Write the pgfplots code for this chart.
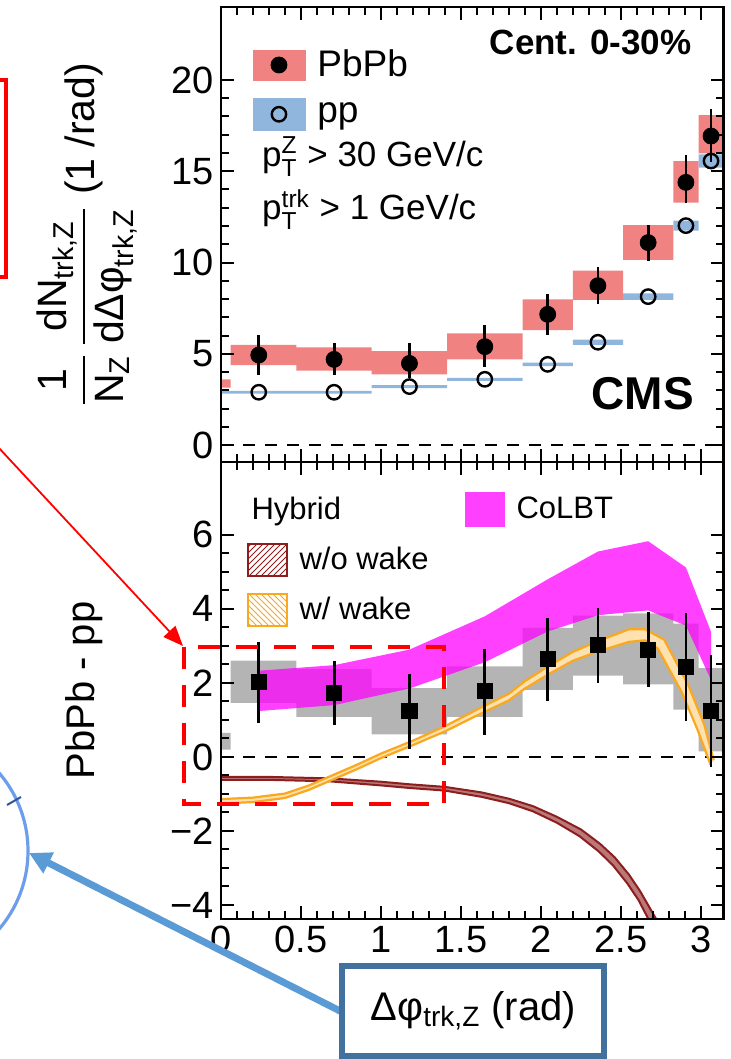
\documentclass[border=0pt]{standalone}
\usepackage{fontspec}
\setmainfont{Liberation Sans}
\usepackage{amsmath}
\usepackage{pgfplots}
\usepackage{pgfplotstable}
\pgfplotsset{compat=1.18}
\usetikzlibrary{arrows.meta,patterns}

\definecolor{pbred}{RGB}{240,130,130}
\definecolor{ppblue}{RGB}{145,182,222}
\definecolor{sysgray}{RGB}{180,180,180}
\definecolor{colbt}{RGB}{255,0,255}
\definecolor{wwake}{RGB}{250,168,30}
\definecolor{wowake}{RGB}{140,30,30}
\definecolor{circblue}{RGB}{109,158,235}
\definecolor{arrblue}{RGB}{91,155,213}
\definecolor{boxblue}{RGB}{65,113,156}
\definecolor{dashblue}{RGB}{47,85,151}

\newcommand\fs[1]{\fontsize{#1}{#1}\selectfont}

\pgfplotstableread{
x y ep em
0.236 4.93 1.10 1.09
0.707 4.69 0.88 0.85
1.178 4.47 1.10 0.82
1.649 5.39 1.19 1.10
2.042 7.16 1.10 1.13
2.356 8.73 1.04 1.00
2.670 11.09 0.96 0.99
2.906 14.39 1.50 1.15
3.063 16.93 1.46 1.40
}\pbpb

\pgfplotstableread{
x y
0.236 2.89
0.707 2.89
1.178 3.20
1.649 3.60
2.042 4.42
2.356 5.63
2.670 8.13
2.906 12.02
3.063 15.56
}\pp

\pgfplotstableread{
x y ep em
0.236 2.03 1.08 1.11
0.707 1.73 0.85 0.87
1.178 1.24 1.01 1.02
1.649 1.78 1.15 1.18
2.042 2.65 1.11 1.13
2.356 3.02 1.01 1.02
2.670 2.90 1.02 1.00
2.906 2.44 1.45 1.47
3.063 1.25 1.50 1.52
}\diff

\pgfplotsset{
  cmsax/.style={
    scale only axis, width=251.3pt, xmin=0, xmax=3.14159,
    axis on top, tick align=inside, tick pos=both,
    axis line style={line width=1.3pt},
    every tick/.style={black, line width=1pt},
    major tick length=6.5pt, minor tick length=4pt,
    xtick={0,0.5,1,1.5,2,2.5,3}, minor x tick num=4,
    tick label style={font=\fs{19}},
    /pgf/number format/assume math mode=true,
    label style={font=\fs{19}},
    legend cell align=left,
  }
}

\begin{document}
\begin{tikzpicture}
\path[use as bounding box] (0,0) rectangle (365.5pt,529.5pt);

% ---------------- top panel ----------------
\begin{axis}[cmsax,
  at={(110.5pt,298.5pt)}, anchor=south west, height=227.5pt,
  ymin=-0.93, ymax=24,
  xticklabels={},
  ytick={0,5,10,15,20}, minor y tick num=4,
  ylabel={$\dfrac{\text{1}}{\text{N}_\text{Z}}\,\dfrac{\text{dN}_\text{trk,Z}}{\text{dΔφ}_\text{trk,Z}}$ (1 /rad)},
  ylabel style={at={(axis description cs:-0.267,0.5)}, anchor=center, font=\fs{20.5}},
  legend style={at={(axis description cs:0.062,0.915)}, anchor=north west,
    draw=none, fill=none, inner sep=0pt, font=\fs{18.5}, row sep=7pt,
    /tikz/every odd column/.append style={column sep=4pt}},
]
\addlegendimage{legend image code/.code={\fill[pbred] (0pt,-7.5pt) rectangle (26pt,7.5pt); \fill[black] (13pt,0pt) circle (4pt);}}
\addlegendentry{PbPb}
\addlegendimage{legend image code/.code={\fill[ppblue] (0pt,-8pt) rectangle (26pt,8pt); \draw[black,line width=1.2pt] (13pt,0pt) circle (3.6pt);}}
\addlegendentry{pp}

\addplot[fill=pbred, draw=none, unbounded coords=jump, forget plot] coordinates {
(0,3.15) (0.06,3.15) (0.06,3.6) (0,3.6) (nan,nan)
(0.06,4.38) (0.471,4.38) (0.471,5.48) (0.06,5.48) (nan,nan)
(0.471,4.07) (0.942,4.07) (0.942,5.35) (0.471,5.35) (nan,nan)
(0.942,3.87) (1.414,3.87) (1.414,5.15) (0.942,5.15) (nan,nan)
(1.414,4.69) (1.885,4.69) (1.885,6.12) (1.414,6.12) (nan,nan)
(1.885,6.30) (2.199,6.30) (2.199,7.98) (1.885,7.98) (nan,nan)
(2.199,7.95) (2.513,7.95) (2.513,9.55) (2.199,9.55) (nan,nan)
(2.513,10.14) (2.827,10.14) (2.827,12.05) (2.513,12.05) (nan,nan)
(2.827,13.28) (2.985,13.28) (2.985,15.56) (2.827,15.56) (nan,nan)
(2.985,15.98) (3.1416,15.98) (3.1416,18.08) (2.985,18.08)
};
\addplot[fill=ppblue, draw=none, unbounded coords=jump, forget plot] coordinates {
(0,2.81) (0.471,2.81) (0.471,2.97) (0,2.97) (nan,nan)
(0.471,2.81) (0.942,2.81) (0.942,2.97) (0.471,2.97) (nan,nan)
(0.942,3.12) (1.414,3.12) (1.414,3.28) (0.942,3.28) (nan,nan)
(1.414,3.52) (1.885,3.52) (1.885,3.68) (1.414,3.68) (nan,nan)
(1.885,4.32) (2.199,4.32) (2.199,4.52) (1.885,4.52) (nan,nan)
(2.199,5.49) (2.513,5.49) (2.513,5.77) (2.199,5.77) (nan,nan)
(2.513,7.95) (2.827,7.95) (2.827,8.31) (2.513,8.31) (nan,nan)
(2.827,11.75) (2.985,11.75) (2.985,12.29) (2.827,12.29) (nan,nan)
(2.985,15.20) (3.1416,15.20) (3.1416,15.92) (2.985,15.92)
};
\addplot[black, line width=1pt, dash pattern=on 6pt off 5pt, forget plot] coordinates {(0,0) (3.1416,0)};
\addplot[only marks, mark=o, mark size=3.6pt, mark options={line width=1.2pt}, black, forget plot] table[x=x,y=y] {\pp};
\addplot[only marks, mark=*, mark size=4pt, black, forget plot,
  error bars/.cd, y dir=both, y explicit, error mark=none,
  error bar style={line width=1.4pt}]
  table[x=x, y=y, y error plus=ep, y error minus=em] {\pbpb};

\node[anchor=east, font=\bfseries\fs{17.5}] at (axis description cs:0.950,0.921) {Cent. 0-30\%};
\node[anchor=east, font=\bfseries\fs{23}] at (axis description cs:0.955,0.150) {CMS};
\node[anchor=base west, font=\fs{17.5}] at (axis description cs:0.068,0.650) {$\text{p}^\text{Z}_\text{T}$ > 30 GeV/c};
\node[anchor=base west, font=\fs{17.5}] at (axis description cs:0.068,0.532) {$\text{p}^\text{trk}_\text{T}$ > 1 GeV/c};
\end{axis}

% ---------------- bottom panel ----------------
\begin{axis}[cmsax,
  at={(110.5pt,70pt)}, anchor=south west, height=228.5pt,
  ymin=-4.38, ymax=7.97,
  ytick={-4,-2,0,2,4,6}, yticklabels={−4,−2,0,2,4,6}, minor y tick num=3,
  xticklabels={0,0.5,1,1.5,2,2.5,3},
  xlabel={Δφ$_\text{trk,Z}$ (rad)},
  xlabel style={at={(axis description cs:0.502,-0.201)}, anchor=center, font=\fs{20}},
  ylabel={PbPb - pp},
  ylabel style={at={(axis description cs:-0.273,0.5)}, anchor=center, font=\fs{20}},
  legend columns=2,
  legend style={at={(axis description cs:0.05,0.935)}, anchor=north west,
    draw=none, fill=none, inner sep=0pt, font=\fs{15.5}, row sep=8pt,
    /tikz/every odd column/.append style={column sep=4pt},
    /tikz/every even column/.append style={column sep=16pt}},
]
\addlegendimage{empty legend}
\addlegendentry{\hspace*{-24pt}Hybrid}
\addlegendimage{legend image code/.code={\fill[colbt!75] (0pt,-8.5pt) rectangle (19.5pt,8.5pt);}}
\addlegendentry{CoLBT}
\addlegendimage{legend image code/.code={\draw[wowake, line width=1pt, pattern=north east lines, pattern color=wowake] (0pt,-8pt) rectangle (19.5pt,8pt);}}
\addlegendentry{w/o wake}
\addlegendimage{empty legend}
\addlegendentry{}
\addlegendimage{legend image code/.code={\draw[wwake, line width=1pt, pattern=north west lines, pattern color=wwake] (0pt,-8pt) rectangle (19.5pt,8pt);}}
\addlegendentry{w/ wake}
\addlegendimage{empty legend}
\addlegendentry{}

\addplot[fill=sysgray, draw=none, unbounded coords=jump, forget plot] coordinates {
(0,0.20) (0.06,0.20) (0.06,0.65) (0,0.65) (nan,nan)
(0.06,1.46) (0.471,1.46) (0.471,2.60) (0.06,2.60) (nan,nan)
(0.471,1.08) (0.942,1.08) (0.942,2.37) (0.471,2.37) (nan,nan)
(0.942,0.61) (1.414,0.61) (1.414,1.86) (0.942,1.86) (nan,nan)
(1.414,1.08) (1.885,1.08) (1.885,2.45) (1.414,2.45) (nan,nan)
(1.885,1.81) (2.199,1.81) (2.199,3.49) (1.885,3.49) (nan,nan)
(2.199,2.20) (2.513,2.20) (2.513,3.82) (2.199,3.82) (nan,nan)
(2.513,1.96) (2.827,1.96) (2.827,3.88) (2.513,3.88) (nan,nan)
(2.827,1.28) (2.985,1.28) (2.985,3.60) (2.827,3.60) (nan,nan)
(2.985,0.15) (3.1416,0.15) (3.1416,2.40) (2.985,2.40)
};
% CoLBT band
\addplot[fill=colbt, fill opacity=0.75, draw=none, forget plot] coordinates {
(0.236,2.33) (0.707,2.48) (1.178,2.90) (1.649,3.80) (2.042,4.80) (2.356,5.55) (2.670,5.83) (2.906,5.12) (3.063,3.38)
(3.063,2.08) (2.906,3.55) (2.670,3.96) (2.356,3.83) (2.042,3.39) (1.649,2.56) (1.178,1.85) (0.707,1.40) (0.236,1.24)
};
\addplot[black, line width=1pt, dash pattern=on 6pt off 5pt, forget plot] coordinates {(0,0) (3.1416,0)};
% Hybrid w/o wake
\addplot[fill=wowake!60, draw=none, forget plot] coordinates {
(0,-0.54) (0.3,-0.54) (0.68,-0.58) (1.0,-0.67) (1.18,-0.74) (1.4,-0.81) (1.63,-0.96) (1.8,-1.13) (1.95,-1.33) (2.1,-1.62) (2.25,-1.96) (2.37,-2.35) (2.46,-2.71) (2.55,-3.18) (2.62,-3.63) (2.72,-4.38)
(2.70,-4.62) (2.61,-3.87) (2.54,-3.42) (2.45,-2.93) (2.36,-2.55) (2.24,-2.14) (2.1,-1.78) (1.95,-1.47) (1.8,-1.25) (1.63,-1.08) (1.4,-0.91) (1.18,-0.84) (1.0,-0.77) (0.68,-0.66) (0.3,-0.62) (0,-0.62)
};
\addplot[wowake, line width=1pt, forget plot] coordinates {
(0,-0.54) (0.3,-0.54) (0.68,-0.58) (1.0,-0.67) (1.18,-0.74) (1.4,-0.81) (1.63,-0.96) (1.8,-1.13) (1.95,-1.33) (2.1,-1.62) (2.25,-1.96) (2.37,-2.35) (2.46,-2.71) (2.55,-3.18) (2.62,-3.63) (2.72,-4.38)
};
\addplot[wowake, line width=1pt, forget plot] coordinates {
(0,-0.62) (0.3,-0.62) (0.68,-0.66) (1.0,-0.77) (1.18,-0.84) (1.4,-0.91) (1.63,-1.08) (1.8,-1.25) (1.95,-1.47) (2.1,-1.78) (2.24,-2.14) (2.36,-2.55) (2.45,-2.93) (2.54,-3.42) (2.61,-3.87) (2.70,-4.62)
};
% Hybrid w/ wake
\addplot[fill=wwake!35, draw=none, forget plot] coordinates {
(0,-1.14) (0.2,-1.10) (0.4,-0.99) (0.55,-0.77) (0.7,-0.49) (0.85,-0.21) (1.0,0.09) (1.2,0.44) (1.4,0.83) (1.6,1.28) (1.8,1.71) (1.9,2.05) (2.05,2.46) (2.2,2.84) (2.35,3.12) (2.55,3.45) (2.65,3.45) (2.77,3.17) (2.92,1.95) (3.02,0.88) (3.08,-0.09)
(3.06,-0.21) (2.98,0.72) (2.88,1.75) (2.73,2.93) (2.65,3.15) (2.55,3.11) (2.35,2.84) (2.2,2.60) (2.05,2.24) (1.9,1.85) (1.8,1.53) (1.6,1.12) (1.4,0.69) (1.2,0.32) (1.0,-0.03) (0.85,-0.33) (0.7,-0.61) (0.55,-0.89) (0.4,-1.11) (0.2,-1.22) (0,-1.26)
};
\addplot[wwake, line width=1.1pt, forget plot] coordinates {
(0,-1.14) (0.2,-1.10) (0.4,-0.99) (0.55,-0.77) (0.7,-0.49) (0.85,-0.21) (1.0,0.09) (1.2,0.44) (1.4,0.83) (1.6,1.28) (1.8,1.71) (1.9,2.05) (2.05,2.46) (2.2,2.84) (2.35,3.12) (2.55,3.45) (2.65,3.45) (2.77,3.17) (2.92,1.95) (3.02,0.88) (3.08,-0.09)
};
\addplot[wwake, line width=1.1pt, forget plot] coordinates {
(0,-1.26) (0.2,-1.22) (0.4,-1.11) (0.55,-0.89) (0.7,-0.61) (0.85,-0.33) (1.0,-0.03) (1.2,0.32) (1.4,0.69) (1.6,1.12) (1.8,1.53) (1.9,1.85) (2.05,2.24) (2.2,2.60) (2.35,2.84) (2.55,3.11) (2.65,3.15) (2.73,2.93) (2.88,1.75) (2.98,0.72) (3.06,-0.21)
};
\addplot[only marks, mark=square*, mark size=3.8pt, black, forget plot,
  error bars/.cd, y dir=both, y explicit, error mark=none,
  error bar style={line width=1.4pt}]
  table[x=x, y=y, y error plus=ep, y error minus=em] {\diff};
\end{axis}

% ---------------- annotations (pixel frame) ----------------
\begin{scope}[yshift=529.5pt, x=0.5pt, y=-0.5pt]
  \draw[red, line width=1.8pt] (-30,80) rectangle (6,277);
  \draw[red, line width=0.9pt, -{Triangle[length=10pt,width=8pt]}] (-2,447) -- (183,646);
  \draw[red, line width=2.3pt, dash pattern=on 11pt off 8pt] (184,647) rectangle (444,804);
  \draw[circblue, line width=1.6pt] (-92,851) circle (60pt);
  \draw[dashblue, line width=1pt] (7,805) -- (21,797);
  \draw[arrblue, line width=3.5pt, -{Triangle[length=11pt,width=11pt]}] (342,1012) -- (29,853);
  \draw[boxblue, line width=2.8pt] (342,966) rectangle (604,1056);
\end{scope}
\end{tikzpicture}
\end{document}
